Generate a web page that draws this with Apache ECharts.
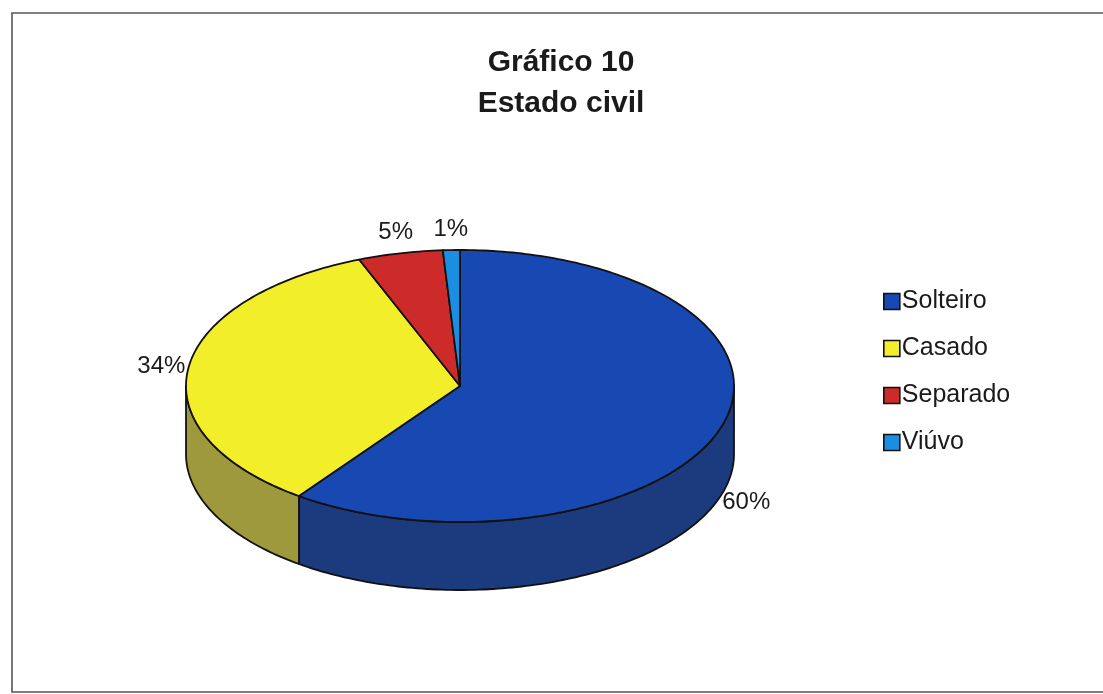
<!DOCTYPE html>
<html>
<head>
<meta charset="utf-8">
<title>Estado civil</title>
<script src="https://cdn.jsdelivr.net/npm/echarts@6/dist/echarts.min.js"></script>
<style>
  html, body { margin: 0; padding: 0; background: #ffffff; }
  #chart { width: 1103px; height: 694px; }
</style>
</head>
<body>
<div id="chart"></div>
<script>
// Data
const categories = ['Solteiro', 'Casado', 'Separado', 'Viúvo'];
const values = [60, 34, 5, 1];
const topColors = ['#1848b2', '#f3ee2a', '#cd2a2a', '#1a8fe2'];
const sideColors = ['#1c3b7e', '#9e993c', '#8c1d1d', '#12609a'];
const titleLines = ['Gráfico 10', 'Estado civil'];

// Geometry of the tilted pie (pixels)
const PIE = { cx: 460, cy: 386, rx: 274, ry: 136, depth: 68 };
const FONT = "'Liberation Sans', Arial, sans-serif";

const total = values.reduce((a, b) => a + b, 0);
const starts = [];
(function () {
  let acc = 0;
  values.forEach(v => { starts.push(acc / total * 360); acc += v; });
})();

function pt(deg, dy) {
  const r = deg * Math.PI / 180;
  return [PIE.cx + PIE.rx * Math.sin(r), PIE.cy - PIE.ry * Math.cos(r) + (dy || 0)];
}
function arc(a0, a1, dy) {
  const pts = [];
  const n = Math.max(2, Math.ceil(Math.abs(a1 - a0)));
  for (let k = 0; k <= n; k++) pts.push(pt(a0 + (a1 - a0) * k / n, dy));
  return pts;
}

function makeRender(i) {
  return function (params, api) {
    const a0 = starts[i];
    const a1 = a0 + values[i] / total * 360;
    const children = [];
    // front wall of the slice (visible between 90° and 270°)
    const s0 = Math.max(a0, 90), s1 = Math.min(a1, 270);
    if (s1 > s0) {
      const upper = arc(s0, s1, 0);
      const lower = arc(s1, s0, PIE.depth);
      children.push({
        type: 'polygon', z2: 1,
        shape: { points: upper.concat(lower) },
        style: { fill: sideColors[i], stroke: '#111', lineWidth: 1.8, lineJoin: 'round' }
      });
    }
    // top face
    children.push({
      type: 'polygon', z2: 5,
      shape: { points: [[PIE.cx, PIE.cy]].concat(arc(a0, a1, 0)) },
      style: { fill: topColors[i], stroke: '#111', lineWidth: 1.8, lineJoin: 'round' }
    });
    // percentage label outside the slice
    const mid = (a0 + a1) / 2;
    const r = mid * Math.PI / 180;
    const dx = Math.sin(r), dyv = -Math.cos(r);
    const front = Math.cos(r) < 0;
    const anchor = pt(mid, front ? PIE.depth : 0);
    const txt = values[i] + '%';
    const w = txt.length * 12, h = 24, gap = 9;
    const lx = anchor[0] + dx * (gap + w / 2);
    const ly = anchor[1] + dyv * (gap + h / 2);
    children.push({
      type: 'text', z2: 10,
      style: {
        x: lx, y: ly, text: txt, fill: '#1a1a1a',
        font: '24px ' + FONT, align: 'center', verticalAlign: 'middle'
      }
    });
    return { type: 'group', children: children };
  };
}

const series = categories.map((name, i) => ({
  type: 'custom',
  name: name,
  coordinateSystem: 'none',
  silent: true,
  animation: false,
  itemStyle: { color: topColors[i] },
  data: [values[i]],
  renderItem: makeRender(i)
}));

const chart = echarts.init(document.getElementById('chart'), null, { renderer: 'canvas' });
chart.setOption({
  backgroundColor: '#ffffff',
  animation: false,
  textStyle: { fontFamily: FONT },
  title: {
    text: titleLines.join('\n'),
    left: 556, top: 37, textAlign: 'center',
    textStyle: { fontFamily: FONT, fontSize: 30, fontWeight: 'bold', color: '#1a1a1a', lineHeight: 41 }
  },
  legend: {
    data: categories,
    orient: 'vertical',
    left: 878, top: 284,
    icon: 'rect',
    itemWidth: 16, itemHeight: 16,
    itemGap: 22,
    selectedMode: false,
    itemStyle: { borderColor: '#111', borderWidth: 1.6 },
    textStyle: { fontFamily: FONT, fontSize: 25, color: '#1a1a1a', padding: [0, 0, 0, -3] }
  },
  graphic: [{
    type: 'rect', silent: true,
    shape: { x: 12, y: 13, width: 1100, height: 679 },
    style: { fill: 'none', stroke: '#555', lineWidth: 1.6 }
  }],
  series: series
});
</script>
</body>
</html>
